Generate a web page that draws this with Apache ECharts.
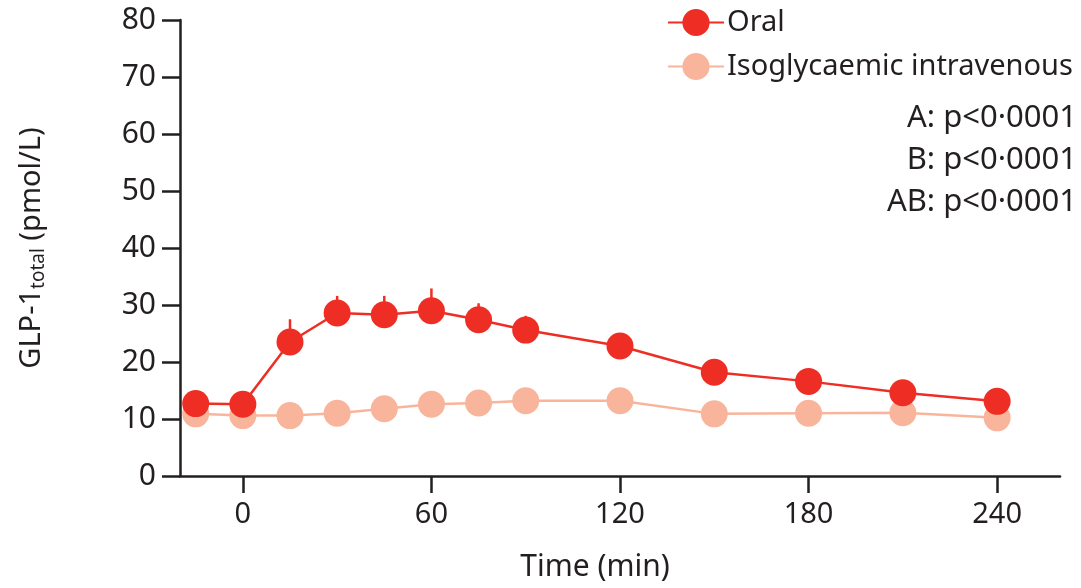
<!DOCTYPE html>
<html>
<head>
<meta charset="utf-8">
<script src="https://cdn.jsdelivr.net/npm/echarts@6/dist/echarts.min.js"></script>
<style>
  html, body { margin: 0; padding: 0; background: #fff; }
  #chart { width: 1081px; height: 588px; }
</style>
</head>
<body>
<div id="chart"></div>
<script>
// ---- Data ----
const times = [-15, 0, 15, 30, 45, 60, 75, 90, 120, 150, 180, 210, 240];
const oralMean = [12.7, 12.6, 23.5, 28.6, 28.3, 29.0, 27.4, 25.6, 22.8, 18.2, 16.6, 14.6, 13.1];
const oralErr  = [1.2, 1.3, 4.0, 3.0, 3.3, 3.9, 2.9, 2.5, 2.0, 1.6, 1.4, 1.3, 1.2];
const ivMean   = [10.9, 10.6, 10.6, 11.0, 11.8, 12.6, 12.8, 13.2, 13.2, 10.9, 11.0, 11.1, 10.2];
const ivErr    = [1.0, 1.0, 1.0, 1.1, 1.2, 1.3, 1.3, 1.4, 1.4, 1.1, 1.1, 1.1, 1.0];
const xTicks   = [0, 60, 120, 180, 240];
const yTicks   = [0, 10, 20, 30, 40, 50, 60, 70, 80];
const seriesNames = ['Oral', 'Isoglycaemic intravenous'];
const pValues  = ['A: p<0·0001', 'B: p<0·0001', 'AB: p<0·0001'];

const ORAL = '#ee2e24';
const IV = '#f8b59b';
const INK = '#231f20';
const FONT = 'Noto Sans';

function pairs(xs, ys) { return xs.map((x, i) => [x, ys[i]]); }
function errData(xs, ys, es) { return xs.map((x, i) => [x, ys[i], ys[i] + es[i]]); }

function errRender(color) {
  return function (params, api) {
    const p0 = api.coord([api.value(0), api.value(1)]);
    const p1 = api.coord([api.value(0), api.value(2)]);
    return {
      type: 'line',
      shape: { x1: p0[0], y1: p0[1], x2: p1[0], y2: p1[1] },
      style: { stroke: color, lineWidth: 2.5 }
    };
  };
}

const chart = echarts.init(document.getElementById('chart'), null, { renderer: 'canvas' });

chart.setOption({
  animation: false,
  backgroundColor: '#ffffff',
  textStyle: { fontFamily: FONT, color: INK },
  grid: { left: 180, right: 21, top: 20, bottom: 112, containLabel: false },
  legend: {
    orient: 'vertical',
    left: 662,
    top: 3,
    itemWidth: 56,
    itemHeight: 34,
    itemGap: 15,
    data: seriesNames,
    textStyle: { fontFamily: FONT, fontSize: 29, color: INK, padding: [0, 0, 0, -2] }
  },
  xAxis: {
    type: 'value',
    min: -20,
    max: 260,
    name: 'Time (min)',
    nameLocation: 'middle',
    nameGap: 76,
    nameTextStyle: { fontFamily: FONT, fontSize: 30, color: INK, padding: [0, 50, 0, 0] },
    axisLine: { show: true, onZero: false, lineStyle: { color: INK, width: 2.5 } },
    axisTick: { show: true, customValues: xTicks, length: 17, lineStyle: { color: INK, width: 2.5 } },
    axisLabel: { customValues: xTicks, margin: 24, fontFamily: FONT, fontSize: 29, color: INK },
    splitLine: { show: false }
  },
  yAxis: {
    type: 'value',
    min: 0,
    max: 80,
    interval: 10,
    name: '{a|GLP-1}{s|total}{a| (pmol/L)}',
    nameLocation: 'middle',
    nameRotate: 90,
    nameGap: 132,
    nameTextStyle: {
      fontFamily: FONT, color: INK,
      rich: {
        a: { fontFamily: FONT, fontSize: 29, color: INK },
        s: { fontFamily: FONT, fontSize: 19, color: INK, padding: [13, 0, 0, 0] }
      }
    },
    axisLine: { show: true, onZero: false, lineStyle: { color: INK, width: 2.5 } },
    axisTick: { show: true, length: 18, lineStyle: { color: INK, width: 2.5 } },
    axisLabel: { margin: 24, fontFamily: FONT, fontSize: 30, color: INK },
    splitLine: { show: false }
  },
  series: [
    {
      type: 'custom',
      name: 'ivErr',
      renderItem: errRender(IV),
      data: errData(times, ivMean, ivErr),
      encode: { x: 0, y: [1, 2] },
      z: 1,
      silent: true
    },
    {
      type: 'line',
      name: seriesNames[1],
      data: pairs(times, ivMean),
      symbol: 'circle',
      symbolSize: 27,
      lineStyle: { color: IV, width: 2.5 },
      itemStyle: { color: IV },
      z: 2
    },
    {
      type: 'custom',
      name: 'oralErr',
      renderItem: errRender(ORAL),
      data: errData(times, oralMean, oralErr),
      encode: { x: 0, y: [1, 2] },
      z: 3,
      silent: true
    },
    {
      type: 'line',
      name: seriesNames[0],
      data: pairs(times, oralMean),
      symbol: 'circle',
      symbolSize: 27,
      lineStyle: { color: ORAL, width: 2.5 },
      itemStyle: { color: ORAL },
      z: 4
    }
  ],
  graphic: pValues.map((t, i) => ({
    type: 'text',
    right: 4,
    top: 103 + i * 42,
    style: { text: t, fontFamily: FONT, fontSize: 31, fill: INK, textAlign: 'right' }
  }))
});
</script>
</body>
</html>
